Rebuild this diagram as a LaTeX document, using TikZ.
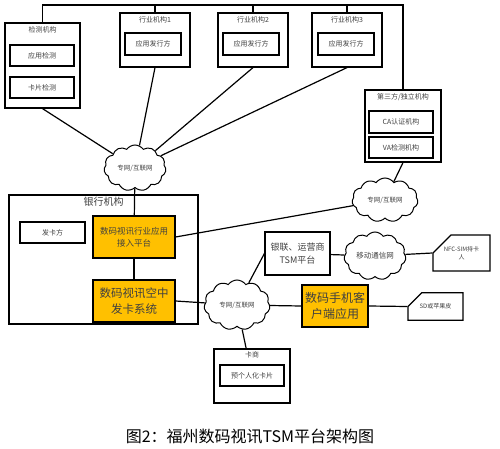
\documentclass[tikz,border=0pt]{standalone}
\usepackage{fontspec}
\newfontfamily\cjk{Noto Sans CJK SC}
\usetikzlibrary{shapes.symbols, shapes.misc, positioning}
\definecolor{FZYellow}{HTML}{FFC000}
\definecolor{FZText}{HTML}{404040}
\newcommand{\fz}[1]{\fontsize{#1}{1.4\dimexpr #1pt\relax}\selectfont}

\begin{document}
\begin{tikzpicture}[
        x=1pt, y=-1pt,
        every node/.style={font=\cjk\fz{7}, text=FZText, inner sep=1pt},
        grp/.style={rectangle, draw, line width=1.2pt},
        unit/.style={rectangle, draw, line width=1.2pt, align=center},
        core/.style={unit, fill=FZYellow},
        net/.style={cloud, draw, line width=1pt, cloud puffs=11, cloud puff arc=110, cloud ignores aspect, inner sep=0pt},
        card/.style={chamfered rectangle, chamfered rectangle corners=north west, chamfered rectangle sep=10pt, draw, line width=1.2pt, align=center},
        link/.style={line width=1.2pt}
    ]
        \useasboundingbox (0,0) rectangle (500,449);

        % test and industry groups
        \node[grp, minimum width=75, minimum height=85] (det) at (42.5,65.5) {};
        \node[below=3pt of det.north] (detT) {检测机构};
        \node[unit, minimum width=64, minimum height=21] (appchk) at (42,55.5) {应用检测};
        \node[unit, minimum width=64, minimum height=21] (cardchk) at (42,87.5) {卡片检测};

        \node[grp, minimum width=70, minimum height=54] (ind1) at (155,40) {};
        \node[below=3pt of ind1.north] (ind1T) {行业机构1};
        \node[unit, minimum width=56, minimum height=22] (iss1) at (153,44) {应用发行方};

        \node[grp, minimum width=70, minimum height=54] (ind2) at (253,40) {};
        \node[below=3pt of ind2.north] (ind2T) {行业机构2};
        \node[unit, minimum width=56, minimum height=22] (iss2) at (251,44) {应用发行方};

        \node[grp, minimum width=70, minimum height=54] (ind3) at (347,40) {};
        \node[below=3pt of ind3.north] (ind3T) {行业机构3};
        \node[unit, minimum width=56, minimum height=22] (iss3) at (346,44) {应用发行方};

        \node[grp, minimum width=76, minimum height=72] (third) at (403,126) {};
        \node[below=3pt of third.north] (thirdT) {第三方/独立机构};
        \node[unit, minimum width=64, minimum height=22] (ca) at (401,122) {CA认证机构};
        \node[unit, minimum width=64, minimum height=21] (va) at (401,147.5) {VA检测机构};

        % bank
        \node[grp, minimum width=189, minimum height=129] (bank) at (103.5,259.5) {};
        \node[font=\cjk\fz{10}, below=1pt of bank.north] (bankT) {银行机构};
        \node[unit, minimum width=65, minimum height=21] (issuer) at (52.5,232.5) {发卡方};
        \node[core, minimum width=82, minimum height=42, font=\cjk\fz{8.5}] (access) at (134,237) {数码视讯行业应用\\接入平台};
        \node[core, minimum width=82, minimum height=42, font=\cjk\fz{11.5}] (air) at (134,301) {数码视讯空中\\发卡系统};

        % networks
        \node[net, minimum width=62, minimum height=46, font=\cjk\fz{6.5}] (net1) at (135,168) {专网/互联网};
        \node[net, minimum width=66, minimum height=44, font=\cjk\fz{6.5}] (net2) at (385,200) {专网/互联网};
        \node[net, minimum width=62, minimum height=48, font=\cjk\fz{7.5}] (mobile) at (375,256) {移动通信网};
        \node[net, minimum width=66, minimum height=50, font=\cjk\fz{6.5}] (net3) at (237,305) {专网/互联网};

        % right side
        \node[unit, minimum width=65, minimum height=43, font=\cjk\fz{9}] (tsm) at (297.5,253.5) {银联、运营商\\TSM平台};
        \node[card, minimum width=57, minimum height=26, font=\cjk\fz{6}] (nfc) at (461.5,253) {NFC-SIM持卡\\人};
        \node[core, minimum width=66, minimum height=42, font=\cjk\fz{12}] (client) at (335,306) {数码手机客\\户端应用};
        \node[card, minimum width=55, minimum height=27, font=\cjk\fz{6}] (sd) at (435.5,306.5) {SD或苹果皮};

        % card dealer
        \node[grp, minimum width=76, minimum height=54] (dealer) at (252,376) {};
        \node[below=2pt of dealer.north] (dealerT) {卡商};
        \node[unit, minimum width=64, minimum height=21] (preper) at (252,375.5) {预个人化卡片};

        % caption
        \node[font=\cjk\fz{16}, text=black] (caption) at (250,437) {图2：福州数码视讯TSM平台架构图};

        % top bus
        \coordinate (bus) at (42,5);
        \draw[link] (det.north) -- (det.north |- bus) -| (third.north);
        \draw[link] (ind1.north) -- (ind1.north |- bus);
        \draw[link] (ind2.north) -- (ind2.north |- bus);
        \draw[link] (ind3.north) -- (ind3.north |- bus);

        % connectors
        \draw[link] (det.south) -- (net1);
        \draw[link] (ind1.south) -- (net1);
        \draw[link] (ind2.south) -- (net1);
        \draw[link] (ind3.south) -- (net1);
        \draw[link] (net1) -- (access);
        \draw[link] (access) -- (air);
        \draw[link] (access.east) -- (net2);
        \draw[link] (third.south) -- (net2);
        \draw[link] (air.east) -- (net3);
        \draw[link] (tsm.west) -- (net3);
        \draw[link] (tsm) -- (mobile);
        \draw[link] (mobile) -- (nfc.west);
        \draw[link] (net3) -- (client.west);
        \draw[link] (client.east) -- (sd.west);
        \draw[link] (net3) -- (dealer);
    \end{tikzpicture}
\end{document}
